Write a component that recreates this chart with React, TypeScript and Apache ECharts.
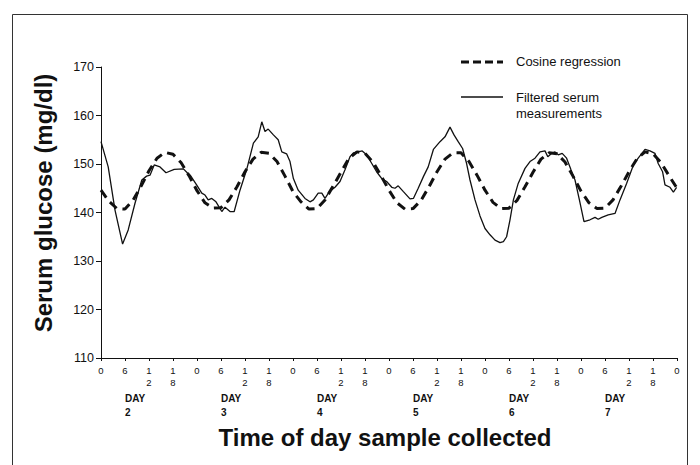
import React, { useEffect, useRef } from "react";
import * as echarts from "echarts";

// ---- data ----
const yMin = 110;
const yMax = 170;
const yStep = 10;
const xMax = 144; // hours (6 days)
const dayLabels = ["2", "3", "4", "5", "6", "7"];
const hourLabels: Record<number, string> = { 0: "0", 6: "6", 12: "1\n2", 18: "1\n8" };

const cosineHours = [
  0, 2, 4, 6, 8, 10, 12, 14, 16, 18, 20, 22,
  24, 26, 28, 30, 32, 34, 36, 38, 40, 42, 44, 46,
  48, 50, 52, 54, 56, 58, 60, 62, 64, 66, 68, 70,
  72, 74, 76, 78, 80, 82, 84, 86, 88, 90, 92, 94,
  96, 98, 100, 102, 104, 106, 108, 110, 112, 114, 116, 118,
  120, 122, 124, 126, 128, 130, 132, 134, 136, 138, 140, 142,
  144,
];
const cosineValues = [
  144.6, 142.3, 140.8, 140.7, 142.5, 145.4, 148.6, 151.2, 152.4, 152.0, 150.3, 147.6,
  144.5, 142.0, 140.9, 141.0, 142.6, 145.3, 148.4, 151.0, 152.4, 152.2, 150.5, 147.5,
  144.3, 142.2, 140.7, 140.8, 142.6, 145.4, 148.3, 151.2, 152.5, 152.2, 150.4, 147.6,
  144.6, 142.0, 140.7, 140.8, 142.5, 145.3, 148.4, 151.0, 152.3, 152.3, 150.5, 147.7,
  144.6, 142.1, 140.8, 140.9, 142.5, 145.3, 148.3, 151.0, 152.3, 152.1, 150.4, 147.5,
  144.4, 142.0, 140.8, 140.9, 142.6, 145.4, 148.4, 151.1, 152.5, 152.1, 150.3, 147.6,
  145.0,
];

const filteredHours = [
  0, 1.8, 3.5, 5.4, 6.8, 8.5, 10.2, 11.4, 12.25, 13.3, 14.75, 16.25, 18.3, 20.6, 21.8, 22.3, 23.9,
  25.2, 26.0, 26.8, 27.7, 28.75, 30.2, 31.0, 32.25, 33.3, 34.75, 36.4, 38.1, 39.3, 40.2, 41.0, 41.8,
  43.1, 44.3, 45.2, 46.4, 47.25, 48.1, 49.3, 51.0, 52.25, 53.1, 54.3, 55.2, 56.0, 57.1, 58.5, 59.75,
  61.0, 62.25, 63.1, 64.3, 65.3, 66.4, 67.7, 68.9, 70.2, 71.4, 72.7, 73.5, 74.3, 75.6, 77.25, 78.1,
  79.3, 80.6, 81.8, 83.1, 84.75, 86.0, 87.25, 88.25, 89.3, 90.4, 91.4, 92.25, 93.5, 94.75, 96.0,
  97.25, 98.5, 99.75, 100.6, 101.4, 102.25, 103.1, 104.3, 106.0, 107.25, 108.5, 109.75, 111.0,
  111.7, 112.7, 113.5, 114.3, 115.3, 116.4, 117.5, 118.5, 119.6, 120.75, 122.25, 123.5, 124.3,
  125.2, 126.8, 128.5, 129.75, 131.4, 133.1, 134.3, 136.0, 137.25, 138.5, 139.3, 140.4, 141.0,
  142.25, 143.1, 143.9,
];
const filteredValues = [
  154.6, 149.4, 140.5, 133.5, 136.4, 141.9, 146.7, 147.5, 147.7, 149.8, 149.4, 148.2, 148.9, 149.0, 148.0, 147.7, 145.7,
  144.0, 143.6, 142.6, 142.9, 142.2, 140.2, 141.1, 140.2, 140.2, 144.6, 148.8, 154.3, 155.6, 158.7, 156.7, 157.2,
  156.0, 155.0, 152.5, 152.1, 150.5, 147.0, 144.6, 142.9, 142.2, 142.6, 144.0, 144.0, 142.9, 144.3, 145.2, 146.4,
  148.8, 151.5, 152.3, 152.5, 152.7, 151.9, 150.1, 148.4, 147.0, 146.4, 145.2, 145.0, 145.5, 144.3, 142.8, 142.9,
  145.0, 147.4, 149.4, 153.0, 154.6, 155.6, 157.6, 156.0, 154.6, 153.2, 150.1, 146.7, 142.6, 139.3, 136.7,
  135.4, 134.3, 133.8, 134.0, 135.0, 138.5, 142.6, 146.0, 149.1, 150.5, 151.2, 152.5, 152.7,
  151.5, 152.2, 152.5, 151.9, 152.2, 151.2, 148.8, 146.7, 142.6, 138.1, 138.5, 139.0, 138.6,
  139.0, 139.5, 139.8, 142.6, 146.0, 149.8, 151.2, 153.0, 152.7, 152.2, 150.1, 148.4, 145.7,
  145.2, 144.2, 145.2,
];

const legendCosine = "Cosine regression";
const legendFiltered = "Filtered serum\nmeasurements";
const yTitle = "Serum glucose (mg/dl)";
const xTitle = "Time of day sample collected";

const FONT = "'Liberation Sans', Arial, Helvetica, sans-serif";
const INK = "#111";

export default function App() {
  const ref = useRef<HTMLDivElement>(null);

  useEffect(() => {
    if (!ref.current) return;
    const chart = echarts.init(ref.current, undefined, { renderer: "svg" });

    const cosineData = cosineHours.map((h, i) => [h, cosineValues[i]]);
    const filteredData = filteredHours.map((h, i) => [h, filteredValues[i]]);

    chart.setOption({
      animation: false,
      backgroundColor: "#fff",
      grid: { left: 101, right: 23, top: 67, bottom: 107, containLabel: false },
      xAxis: [
        {
          type: "value",
          min: 0,
          max: xMax,
          interval: 6,
          position: "bottom",
          axisLine: { show: true, lineStyle: { color: INK, width: 1 } },
          axisTick: { show: true, length: 3, lineStyle: { color: INK, width: 1 } },
          splitLine: { show: false },
          axisLabel: {
            margin: 7,
            fontSize: 9.5,
            lineHeight: 11.5,
            color: INK,
            fontFamily: FONT,
            formatter: (v: number) => hourLabels[v % 24] ?? "",
          },
        },
        {
          type: "value",
          min: 0,
          max: xMax,
          interval: 6,
          position: "bottom",
          offset: 25,
          axisLine: { show: false },
          axisTick: { show: false },
          splitLine: { show: false },
          axisLabel: {
            margin: 8,
            fontSize: 10,
            lineHeight: 14,
            fontWeight: "bold",
            color: INK,
            fontFamily: FONT,
            align: "left",
            formatter: (v: number) =>
              v % 24 === 6 && v < xMax ? `DAY\n${dayLabels[Math.floor(v / 24)]}` : "",
          },
        },
      ],
      yAxis: {
        type: "value",
        min: yMin,
        max: yMax,
        interval: yStep,
        axisLine: { show: true, lineStyle: { color: INK, width: 1 } },
        axisTick: { show: true, length: 5, lineStyle: { color: INK, width: 1 } },
        splitLine: { show: false },
        axisLabel: { margin: 7, fontSize: 12.5, color: INK, fontFamily: FONT },
      },
      series: [
        {
          name: legendFiltered,
          type: "line",
          data: filteredData,
          symbol: "none",
          lineStyle: { color: INK, width: 1.3, type: "solid" },
          z: 2,
        },
        {
          name: legendCosine,
          type: "line",
          data: cosineData,
          symbol: "none",
          lineStyle: { color: INK, width: 3, type: [9, 6] },
          z: 3,
        },
      ],
      graphic: [
        {
          type: "rect",
          shape: { x: 12.5, y: 14.5, width: 675, height: 480 },
          style: { fill: "none", stroke: "#333", lineWidth: 1 },
          silent: true,
        },
        {
          type: "line",
          shape: { x1: 461, y1: 62, x2: 503, y2: 62 },
          style: { stroke: INK, lineWidth: 3, lineDash: [8, 4] },
        },
        {
          type: "text",
          x: 516,
          y: 61,
          style: {
            text: legendCosine,
            font: `13px ${FONT}`,
            fill: INK,
            textAlign: "left",
            textVerticalAlign: "middle",
          },
        },
        {
          type: "line",
          shape: { x1: 461, y1: 97, x2: 503, y2: 97 },
          style: { stroke: INK, lineWidth: 1.5 },
        },
        {
          type: "text",
          x: 516,
          y: 89,
          style: {
            text: legendFiltered,
            font: `13px ${FONT}`,
            lineHeight: 16,
            fill: INK,
            textAlign: "left",
            textVerticalAlign: "top",
          },
        },
        {
          type: "text",
          x: 43,
          y: 203,
          rotation: Math.PI / 2,
          style: {
            text: yTitle,
            font: `bold 24px ${FONT}`,
            fill: INK,
            textAlign: "center",
            textVerticalAlign: "middle",
          },
        },
        {
          type: "text",
          x: 385,
          y: 437,
          style: {
            text: xTitle,
            font: `bold 24px ${FONT}`,
            fill: INK,
            textAlign: "center",
            textVerticalAlign: "middle",
          },
        },
      ],
    });

    return () => chart.dispose();
  }, []);

  return (
    <div
      ref={ref}
      style={{ position: "absolute", left: 0, top: 0, width: 700, height: 465 }}
    />
  );
}
